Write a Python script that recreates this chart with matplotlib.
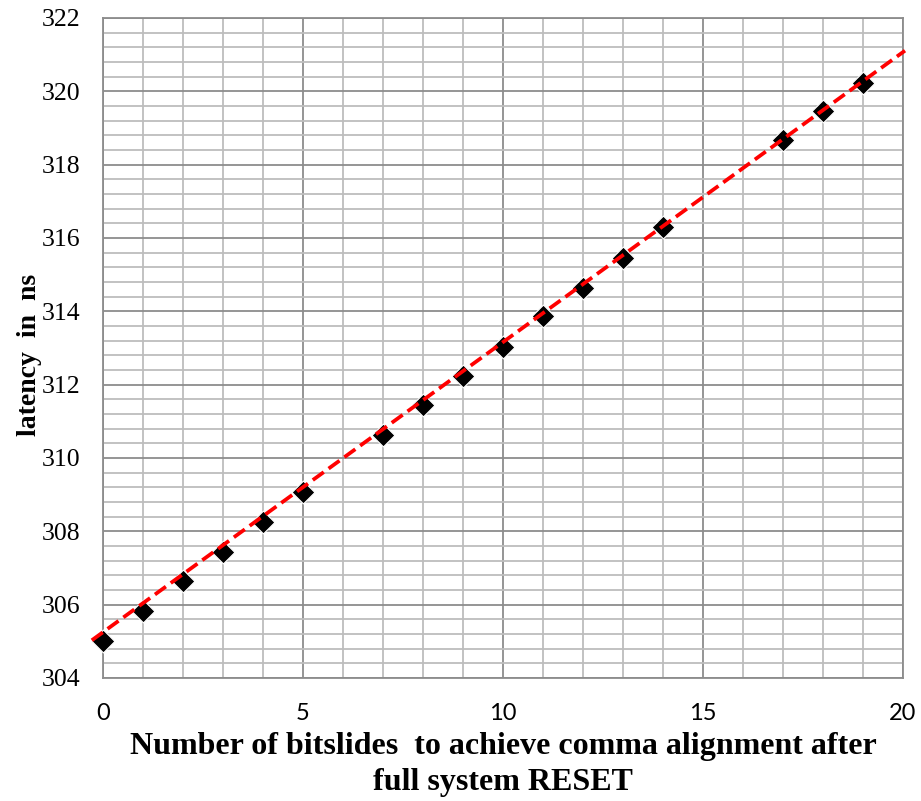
import numpy as np
import matplotlib
matplotlib.use("Agg")
import matplotlib.pyplot as plt
from matplotlib.ticker import MultipleLocator

bitslides = [0, 1, 2, 3, 4, 5, 7, 8, 9, 10, 11, 12, 13, 14, 17, 18, 19]
latency = [305.02, 305.83, 306.65, 307.44, 308.25, 309.08, 310.63, 311.44, 312.24,
           313.04, 313.88, 314.65, 315.45, 316.29, 318.67, 319.46, 320.24]
x_ticks = [0, 5, 10, 15, 20]
y_ticks = [304, 306, 308, 310, 312, 314, 316, 318, 320, 322]
# linear trendline as drawn in the chart
trend_intercept = 305.25
trend_slope = 0.791
trend_x = [-0.28, 20.05]

fig = plt.figure(figsize=(9.21, 8.01), dpi=100)
ax = fig.add_axes([103/921, 1-678/801, 800/921, 660/801])
ax.set_xlim(0, 20)
ax.set_ylim(304, 322)

ax.xaxis.set_minor_locator(MultipleLocator(1))
ax.yaxis.set_minor_locator(MultipleLocator(0.4))
ax.set_xticks(x_ticks)
ax.set_yticks(y_ticks)
ax.grid(which='minor', color='#bdbdbd', linewidth=1.3)
ax.grid(which='major', color='#8c8c8c', linewidth=1.3)
ax.set_axisbelow(True)
for s in ax.spines.values():
    s.set_color('#8c8c8c')
    s.set_linewidth(1.3)
ax.tick_params(which='both', length=0)
ax.tick_params(axis='x', pad=18)
ax.tick_params(axis='y', pad=16)
for lab in ax.get_xticklabels():
    lab.set_fontfamily('Lato')
    lab.set_fontsize(17)
for lab in ax.get_yticklabels():
    lab.set_fontfamily('Liberation Serif')
    lab.set_fontsize(18.5)

ax.scatter(bitslides, latency, marker='D', s=135, color='black', edgecolors='white',
           linewidths=0.8, zorder=3, clip_on=False)

xt = np.array(trend_x)
ax.plot(xt, trend_intercept + trend_slope * xt, color='#ff0000',
        linestyle=(0, (3.6, 1.6)), linewidth=2.7, zorder=4, clip_on=False)

ax.set_xlabel('Number of bitslides  to achieve comma alignment after\nfull system RESET',
              fontfamily='Liberation Serif', fontweight='bold', fontsize=23,
              linespacing=1.3)
ax.xaxis.set_label_coords(0.5, -(732 - 678) / 660)
ax.set_ylabel('latency  in  ns', fontfamily='Liberation Serif', fontweight='bold',
              fontsize=20, va='center')
ax.yaxis.set_label_coords((30 - 103) / 800, (678 - 355) / 660)

fig.savefig('out.png', dpi=100)
